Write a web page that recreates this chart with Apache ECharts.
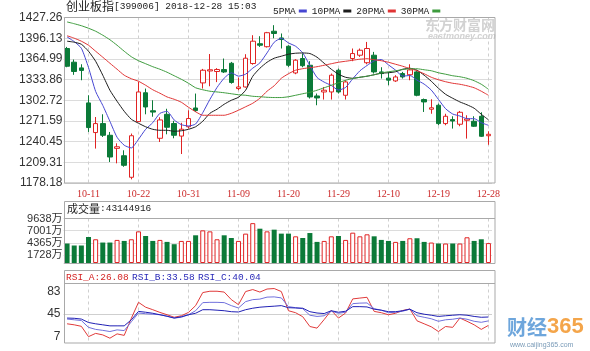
<!DOCTYPE html>
<html>
<head>
<meta charset="utf-8">
<script src="https://cdn.jsdelivr.net/npm/echarts@6/dist/echarts.min.js"></script>
<style>
html, body { margin: 0; padding: 0; background: #fff; }
#chart { width: 590px; height: 351px; }
</style>
</head>
<body>
<div id="chart"></div>
<script>
// 创业板指 日K 2018-10-08 ~ 2018-12-28
const dates = ['10-08','10-09','10-10','10-11','10-12','10-15','10-16','10-17','10-18','10-19',
  '10-22','10-23','10-24','10-25','10-26','10-29','10-30','10-31','11-01','11-02',
  '11-05','11-06','11-07','11-08','11-09','11-12','11-13','11-14','11-15','11-16',
  '11-19','11-20','11-21','11-22','11-23','11-26','11-27','11-28','11-29','11-30',
  '12-03','12-04','12-05','12-06','12-07','12-10','12-11','12-12','12-13','12-14',
  '12-17','12-18','12-19','12-20','12-21','12-24','12-25','12-26','12-27','12-28'];
const labelDays = ['10-11','10-22','10-31','11-09','11-20','11-29','12-10','12-19','12-28'];

const open = [1380.6,1360.0,1351.4,1298.7,1254.1,1267.6,1250.0,1230.3,1219.2,1186.8,
  1270.6,1314.0,1286.9,1245.5,1281.6,1267.7,1248.8,1262.8,1291.1,1328.8,
  1346.8,1346.0,1348.9,1358.4,1320.3,1322.7,1358.0,1387.8,1383.3,1406.6,
  1396.5,1384.0,1343.8,1365.5,1355.4,1309.2,1315.2,1315.2,1347.9,1310.2,
  1365.5,1370.5,1359.2,1370.5,1345.4,1336.0,1331.8,1342.9,1341.1,1345.4,
  1303.8,1289.2,1295.2,1267.6,1273.6,1266.6,1272.6,1271.1,1278.6,1249.3];
const close = [1353.9,1346.0,1347.6,1261.6,1267.6,1250.0,1217.3,1232.7,1204.8,1249.3,
  1315.2,1292.6,1284.9,1273.1,1262.1,1250.0,1259.1,1275.2,1287.2,1347.9,
  1348.6,1349.0,1345.3,1329.5,1322.7,1366.0,1391.6,1385.5,1404.4,1403.2,
  1394.1,1355.4,1363.0,1354.7,1307.7,1306.2,1317.8,1340.4,1315.2,1330.3,
  1373.0,1378.0,1380.6,1345.4,1342.9,1333.0,1337.8,1337.8,1348.4,1310.2,
  1300.2,1291.4,1267.6,1278.6,1271.5,1284.6,1274.5,1263.6,1248.5,1251.5];
const low = [1352.4,1341.0,1332.8,1255.0,1230.0,1247.4,1209.8,1207.8,1202.6,1183.7,
  1270.0,1281.6,1277.9,1239.9,1251.5,1245.5,1221.8,1260.1,1285.1,1320.3,
  1323.8,1330.0,1343.8,1327.6,1317.8,1321.8,1356.2,1383.0,1382.1,1396.0,
  1380.6,1352.9,1341.9,1352.4,1305.3,1295.2,1303.8,1303.8,1312.8,1303.8,
  1361.5,1368.0,1356.9,1342.9,1335.4,1325.3,1330.3,1335.4,1332.8,1308.7,
  1285.1,1282.4,1265.1,1265.1,1260.1,1263.6,1245.0,1262.5,1247.4,1235.7];
const high = [1383.0,1364.0,1356.9,1310.2,1277.5,1281.6,1255.0,1237.9,1227.4,1252.6,
  1330.6,1320.3,1302.7,1277.1,1289.9,1271.8,1268.8,1287.6,1312.8,1349.9,
  1372.3,1351.0,1365.5,1360.4,1336.9,1372.0,1400.6,1399.1,1405.6,1415.7,
  1403.2,1385.5,1364.5,1373.0,1361.5,1312.8,1322.7,1342.9,1350.5,1332.8,
  1380.6,1380.6,1390.5,1375.5,1352.4,1345.0,1340.4,1345.4,1356.9,1347.9,
  1305.3,1304.2,1297.7,1282.4,1278.6,1286.6,1280.1,1278.6,1284.6,1256.0];

const ma5 = [1398,1391,1381,1352,1316,1295,1271,1247,1235,1231,
  1244,1259,1269,1283,1286,1273,1266,1264,1267,1284,
  1304,1322,1336,1344,1339,1342,1351,1359,1374,1390,
  1396,1389,1384,1374,1355,1337,1330,1325,1318,1322,
  1335,1347,1355,1362,1364,1356,1348,1339,1340,1333,
  1327,1318,1304,1290,1282,1279,1275,1275,1269,1265];
const ma10 = [1391.6,1390.1,1387.0,1376.5,1361.4,1340.4,1317.8,1301.2,1286.1,1274.1,
  1268.1,1262.8,1259.0,1257.5,1257.5,1256.0,1256.8,1259.0,1262.8,1271.1,
  1283.1,1289.2,1296.7,1302.7,1307.2,1317.8,1338.8,1350.9,1359.9,1366.0,
  1369.0,1372.0,1373.5,1373.9,1373.0,1367.5,1358.4,1349.4,1341.9,1337.3,
  1335.8,1337.3,1338.9,1341.1,1343.4,1344.1,1345.6,1349.4,1350.9,1347.9,
  1340.4,1331.3,1320.8,1311.7,1305.7,1300.2,1295.9,1290.7,1281.6,1273.3];
const ma20 = [1399.8,1396.1,1391.6,1385.5,1376.5,1367.5,1358.4,1349.4,1340.4,1335.1,
  1331.3,1325.3,1318.5,1313.3,1307.7,1304.2,1299.7,1292.2,1285.4,1280.1,
  1280.1,1280.1,1280.1,1283.1,1287.7,1292.9,1298.2,1305.7,1316.3,1324.5,
  1335.8,1342.6,1347.9,1350.2,1351.7,1353.2,1355.4,1357.7,1359.9,1361.4,
  1362.9,1364.5,1365.2,1363.7,1362.2,1359.9,1356.9,1353.9,1350.4,1347.1,
  1342.6,1337.3,1333.6,1330.6,1328.3,1326.8,1324.5,1321.5,1316.3,1310.2];
const ma30 = [1420.6,1417.9,1414.9,1411.1,1406.6,1400.6,1393.8,1385.5,1376.5,1368.2,
  1362.2,1357.7,1353.2,1349.4,1344.9,1339.6,1334.3,1328.3,1321.5,1318.5,
  1316.3,1315.2,1314.0,1312.5,1311.0,1310.2,1308.7,1308.0,1307.2,1306.8,
  1306.8,1308.0,1310.2,1312.5,1314.7,1317.8,1321.5,1325.3,1329.1,1332.8,
  1335.4,1337.3,1338.9,1341.1,1343.8,1345.6,1347.1,1348.9,1350.1,1350.1,
  1348.6,1347.1,1344.1,1341.9,1339.6,1338.1,1335.8,1332.1,1326.8,1319.3];

// 成交量（万）
const volume = [4220,3790,3790,5630,5140,4430,4430,5000,4780,5140,
  6850,5850,4780,5000,4570,4070,4780,4780,6000,7070,
  6850,5140,6000,5420,4780,6360,8630,7430,6850,7220,
  6360,6360,5780,5420,6490,4570,4780,5780,5850,5000,
  6570,5780,6210,5780,5000,4780,4570,4780,5360,5360,
  4570,4430,4220,4220,4220,4220,5570,4780,5140,4314];

const rsiA = [28.7,27.0,24.5,7.3,12.7,10.2,4.7,11.9,9.4,38.0,
  64.5,56.4,52.2,47.7,43.8,39.6,42.1,47.7,59.0,80.8,
  83.0,83.0,81.6,69.0,60.6,82.5,85.8,81.6,86.7,87.5,
  82.5,50.5,47.2,40.5,24.2,21.5,35.8,51.1,38.3,46.7,
  70.2,71.6,72.9,49.4,47.2,43.8,46.3,50.9,53.4,33.7,
  28.7,23.7,15.8,24.2,22.8,38.3,32.9,27.0,19.4,26.08];
const rsiB = [36.6,35.4,34.2,22.8,19.4,17.8,15.8,18.6,17.4,32.1,
  46.7,45.5,44.7,43.8,41.3,38.3,39.6,43.8,50.5,64.0,
  64.5,64.5,64.0,59.0,55.1,65.7,69.0,69.9,73.2,73.6,
  71.9,57.3,55.6,53.9,43.0,41.0,42.1,49.7,46.3,48.0,
  62.3,63.2,63.5,53.9,51.4,47.2,48.0,49.7,53.1,42.1,
  39.6,37.1,32.9,35.4,36.3,38.3,36.3,32.9,31.2,33.58];
const rsiC = [38.3,37.9,36.6,30.9,28.7,27.0,25.3,25.3,25.3,35.4,
  49.4,48.0,46.3,43.8,41.3,38.3,40.5,43.8,46.3,52.2,
  52.2,51.4,50.5,48.9,48.4,52.2,54.7,56.4,57.3,58.1,
  59.0,55.6,55.1,54.7,48.9,46.7,45.8,50.5,48.0,49.7,
  57.3,57.3,56.8,53.1,51.4,48.9,48.9,50.5,53.1,47.2,
  44.7,43.0,41.0,42.1,43.0,43.8,43.0,41.0,39.6,40.04];

const priceTicks = ['1178.18','1209.31','1240.45','1271.59','1302.72','1333.86','1364.99','1396.13','1427.26'];
const volTicks = [0, 1728, 4365, 7001, 9638];
const rsiTicks = [7, 45, 83];

const UP = '#e02323';
const DOWN = '#0b7a38';
const PMIN = 1178.18, PMAX = 1427.26, PSTEP = 31.135;

let chart = echarts.init(document.getElementById('chart'));

let candles = dates.map((d, i) => [open[i], close[i], low[i], high[i]]);
let volBars = volume.map((v, i) => ({
  value: v,
  itemStyle: close[i] >= open[i]
    ? { color: '#fff', borderColor: UP, borderWidth: 1 }
    : { color: DOWN }
}));
let isLabelDay = (idx) => labelDays.indexOf(dates[idx]) >= 0;

let gridBase = { left: 63.5, width: 428.5 };
let vLine = { show: true, interval: isLabelDay, alignWithLabel: true,
  lineStyle: { color: '#cfcfcf', type: [3, 3], width: 1 } };

function xAxisFor(gi, showLabel) {
  return {
    type: 'category', gridIndex: gi, data: dates, boundaryGap: true,
    axisLine: { show: false }, axisTick: { show: false },
    axisLabel: showLabel ? {
      interval: isLabelDay, color: '#cc2a2a', fontSize: 10,
      fontFamily: 'Liberation Serif', margin: 6
    } : { show: false },
    splitLine: vLine
  };
}

let maLine = (name, data, color) => ({
  name: name, type: 'line', xAxisIndex: 0, yAxisIndex: 0, data: data,
  symbol: 'none', smooth: 0.2, z: 4,
  lineStyle: { color: color, width: 1 }, itemStyle: { color: color }
});
let rsiLine = (name, data, color) => ({
  name: name, type: 'line', xAxisIndex: 2, yAxisIndex: 2, data: data,
  symbol: 'none', lineStyle: { color: color, width: 1 }
});

let frame = (y, h) => ({
  type: 'rect', z: 50, silent: true,
  shape: { x: 64.5, y: y, width: 430.5, height: h },
  style: { fill: 'none', stroke: '#a9a9a9', lineWidth: 1 }
});
let hRule = (y) => ({
  type: 'line', z: 50, silent: true,
  shape: { x1: 64.5, y1: y, x2: 495, y2: y },
  style: { stroke: '#a9a9a9', lineWidth: 1 }
});

let option = {
  animation: false,
  textStyle: { fontFamily: 'Liberation Sans, "Noto Sans CJK SC"' },
  legend: {
    data: ['5PMA', '10PMA', '20PMA', '30PMA'],
    left: 268, top: 1, align: 'right', icon: 'rect',
    itemWidth: 8, itemHeight: 3, itemGap: 5, selectedMode: false,
    textStyle: { fontFamily: 'Liberation Mono', fontSize: 9.5, color: '#222', padding: [0, -2, 0, 0] }
  },
  grid: [
    Object.assign({ top: 17.5, height: 165.5 }, gridBase),
    Object.assign({ top: 218.5, height: 44.5 }, gridBase),
    Object.assign({ top: 283.5, height: 59.5 }, gridBase)
  ],
  xAxis: [xAxisFor(0, true), xAxisFor(1, false), xAxisFor(2, false)],
  yAxis: [
    {
      gridIndex: 0, min: PMIN, max: PMAX, interval: PSTEP,
      axisLine: { show: false }, axisTick: { show: false },
      axisLabel: {
        color: '#333', fontSize: 12, margin: 1,
        formatter: (v) => priceTicks[Math.round((v - PMIN) / PSTEP)]
      },
      splitLine: { lineStyle: { color: '#dcdcdc' } }
    },
    {
      gridIndex: 1, min: 0, max: 9638,
      axisLine: { show: false },
      axisTick: { show: false, customValues: volTicks },
      axisLabel: {
        customValues: volTicks, color: '#333', fontSize: 11, margin: 1,
        fontFamily: 'Liberation Sans, "Noto Sans CJK SC"',
        formatter: (v) => v === 0 ? '0' : v + '万'
      },
      splitLine: { lineStyle: { color: '#dcdcdc' } }
    },
    {
      gridIndex: 2, min: -3.3, max: 95.9,
      axisLine: { show: false },
      axisTick: { show: false, customValues: [45] },
      axisLabel: { customValues: rsiTicks, color: '#333', fontSize: 12, margin: 3 },
      splitLine: { lineStyle: { color: '#cfcfcf' } }
    }
  ],
  series: [
    {
      name: 'K', type: 'candlestick', xAxisIndex: 0, yAxisIndex: 0,
      data: candles, barWidth: 5, z: 3,
      itemStyle: { color: '#fff', color0: DOWN, borderColor: UP, borderColor0: DOWN, borderWidth: 1 }
    },
    maLine('5PMA', ma5, '#4646d2'),
    maLine('10PMA', ma10, '#1c1c1c'),
    maLine('20PMA', ma20, '#e03434'),
    maLine('30PMA', ma30, '#3d9b3d'),
    { name: 'VOL', type: 'bar', xAxisIndex: 1, yAxisIndex: 1, data: volBars, barWidth: 5 },
    rsiLine('RSI_A', rsiA, '#e03a3a'),
    rsiLine('RSI_B', rsiB, '#7070dc'),
    rsiLine('RSI_C', rsiC, '#2020b4')
  ],
  graphic: [
    frame(17.5, 165.5), frame(201.5, 62), frame(270.5, 72.5),
    hRule(218.5), hRule(283.5),
    {
      type: 'text', left: 66, top: 0, z: 60,
      style: {
        text: '{a|创业板指}{b|[399006] 2018-12-28 15:03}',
        rich: {
          a: { fontFamily: 'Noto Sans CJK SC', fontSize: 12, fill: '#222' },
          b: { fontFamily: 'Liberation Mono', fontSize: 9.5, fill: '#222' }
        }
      }
    },
    {
      type: 'text', left: 67, top: 203, z: 60,
      style: {
        text: '{a|成交量}{b|:43144916}',
        rich: {
          a: { fontFamily: 'Noto Sans CJK SC', fontSize: 11, fill: '#222' },
          b: { fontFamily: 'Liberation Mono', fontSize: 9.5, fill: '#222' }
        }
      }
    },
    {
      type: 'text', left: 66, top: 271, z: 60,
      style: {
        text: '{a|RSI_A:26.08} {b|RSI_B:33.58} {b|RSI_C:40.04}',
        rich: {
          a: { fontFamily: 'Liberation Mono', fontSize: 9.5, fill: '#d42424' },
          b: { fontFamily: 'Liberation Mono', fontSize: 9.5, fill: '#2a2ab8' }
        }
      }
    },
    // 水印
    {
      type: 'text', left: 425, top: 18, z: 1,
      style: { text: '东方财富网', font: 'bold 14px "Noto Sans CJK SC"', fill: '#d2d2d2' }
    },
    {
      type: 'text', left: 428, top: 32, z: 1,
      style: { text: 'eastmoney.com', font: 'italic bold 9px "Liberation Sans"', fill: '#d2d2d2' }
    },
    {
      type: 'text', left: 507, top: 316, z: 60,
      style: {
        text: '{a|财经}{b|365}',
        rich: {
          a: { font: 'bold 20px "Noto Sans CJK SC"', fill: '#6ea6dc' },
          b: { font: 'bold 22px "Liberation Sans"', fill: '#f4a54a' }
        }
      }
    },
    {
      type: 'text', left: 510, top: 342, z: 60,
      style: { text: 'www.caijing365.com', font: '7px "Liberation Sans"', fill: '#7a9bb8' }
    }
  ]
};

chart.setOption(option);
</script>
</body>
</html>
